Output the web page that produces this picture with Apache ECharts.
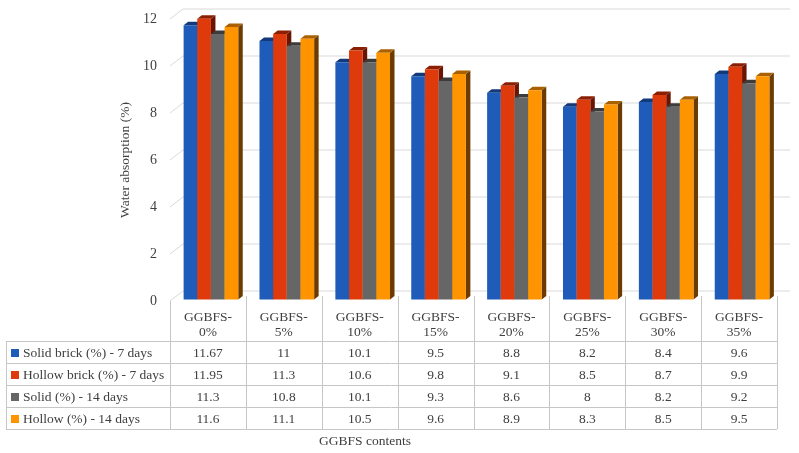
<!DOCTYPE html>
<html lang="en">
<head>
<meta charset="UTF-8">
<title>Water absorption</title>
<script src="https://cdn.jsdelivr.net/npm/echarts@6/dist/echarts.min.js"></script>
<style>
    html, body { margin: 0; padding: 0; background: #fff; }
    #main { width: 799px; height: 453px; }
</style>
</head>
<body>
<div id="main"></div>
<script type="text/javascript">
    const categories = ['GGBFS-0%', 'GGBFS-5%', 'GGBFS-10%', 'GGBFS-15%', 'GGBFS-20%', 'GGBFS-25%', 'GGBFS-30%', 'GGBFS-35%'];
    const seriesNames = ['Solid brick (%) - 7 days', 'Hollow brick (%) - 7 days', 'Solid (%) - 14 days', 'Hollow (%) - 14 days'];
    const solidBrick7 = [11.67, 11, 10.1, 9.5, 8.8, 8.2, 8.4, 9.6];
    const hollowBrick7 = [11.95, 11.3, 10.6, 9.8, 9.1, 8.5, 8.7, 9.9];
    const solid14 = [11.3, 10.8, 10.1, 9.3, 8.6, 8, 8.2, 9.2];
    const hollow14 = [11.6, 11.1, 10.5, 9.6, 8.9, 8.3, 8.5, 9.5];
    const yTicks = [0, 2, 4, 6, 8, 10, 12];

    const allValues = [solidBrick7, hollowBrick7, solid14, hollow14];
    const front = ['#1f5bb8', '#de3a0b', '#666666', '#fd9400'];
    const topCol = ['#12397a', '#8c1e04', '#3c3c3c', '#a86000'];
    const sideCol = ['#0d2a5c', '#6a1402', '#2f2f2f', '#6c3b00'];
    const FONT = '"Liberation Serif", "Times New Roman", serif';
    const TXT = '#404040';

    // wall depth and bar depth (fake 3d)
    const WALL_DX = 13, WALL_DY = -10;
    const BAR_DX = 4.5, BAR_DY = -3.5;
    const SHIFT_X = 3, SHIFT_Y = -1.5;

    let chart = echarts.init(document.getElementById('main'), null, {renderer: 'canvas'});

    function wallItem(params, api) {
        let band = api.size([1, 0])[0];
        let p = api.coord([0, api.value(1)]);
        let left = p[0] - band / 2;
        let right = api.coord([categories.length - 1, 0])[0] + band / 2;
        let y = p[1];
        return {
            type: 'polyline',
            shape: {points: [[left, y], [left + WALL_DX, y + WALL_DY], [right + WALL_DX, y + WALL_DY]]},
            style: {stroke: '#d9d9d9', lineWidth: 1, fill: null}
        };
    }

    function barItem(si) {
        return function (params, api) {
            let c = api.value(0), v = api.value(1);
            let band = api.size([1, 0])[0];
            let base = api.coord([c, 0]);
            let top = api.coord([c, v]);
            let bw = band * 0.18;
            let x0 = base[0] - band / 2 + band * 0.14 + si * bw + SHIFT_X;
            let x1 = x0 + bw;
            let yb = base[1] + SHIFT_Y, yt = top[1] + SHIFT_Y;
            return {
                type: 'group',
                children: [
                    {
                        type: 'polygon',
                        shape: {points: [[x1, yt], [x1 + BAR_DX, yt + BAR_DY], [x1 + BAR_DX, yb + BAR_DY], [x1, yb]]},
                        style: {fill: sideCol[si]}
                    },
                    {
                        type: 'polygon',
                        shape: {points: [[x0, yt], [x1, yt], [x1 + BAR_DX, yt + BAR_DY], [x0 + BAR_DX, yt + BAR_DY]]},
                        style: {fill: topCol[si]}
                    },
                    {
                        type: 'rect',
                        shape: {x: x0, y: yt, width: bw, height: yb - yt},
                        style: {fill: front[si]}
                    }
                ]
            };
        };
    }

    let series = [{
        type: 'custom',
        name: 'wall',
        renderItem: wallItem,
        data: yTicks.map(v => [0, v]),
        encode: {x: 0, y: 1},
        silent: true,
        z: 1
    }];
    allValues.forEach((vals, si) => {
        series.push({
            type: 'custom',
            name: seriesNames[si],
            renderItem: barItem(si),
            data: vals.map((v, i) => [i, v]),
            encode: {x: 0, y: 1},
            z: 2 + si
        });
    });

    chart.setOption({
        animation: false,
        grid: {left: 170, right: 22, top: 19, bottom: 152},
        xAxis: {
            type: 'category',
            data: categories,
            axisLine: {show: false},
            axisTick: {show: false},
            splitLine: {show: false},
            axisLabel: {
                interval: 0,
                margin: 9,
                fontFamily: FONT,
                fontSize: 13.5,
                lineHeight: 15,
                color: TXT,
                formatter: v => v.replace('-', '-\n')
            }
        },
        yAxis: {
            type: 'value',
            min: 0,
            max: 12,
            interval: 2,
            axisLine: {show: false},
            axisTick: {show: false},
            splitLine: {show: false},
            axisLabel: {margin: 13, fontFamily: FONT, fontSize: 14, color: TXT},
            name: 'Water absorption (%)',
            nameLocation: 'middle',
            nameGap: 35,
            nameTextStyle: {fontFamily: FONT, fontSize: 13.5, color: TXT}
        },
        series: series
    });

    // data table under the chart, aligned on the category axis
    let cx = categories.map(c => chart.convertToPixel({xAxisIndex: 0}, c));
    let band = cx[1] - cx[0];
    let tLeft = cx[0] - band / 2;
    let tRight = cx[cx.length - 1] + band / 2;
    let legLeft = 6;
    let rowY = [341, 363, 385, 407, 429];
    let lineStyle = {stroke: '#c6c6c6', lineWidth: 1};
    let graphics = [];

    for (let k = 0; k <= categories.length; k++) {
        let x = Math.round(tLeft + k * band) + 0.5;
        graphics.push({
            type: 'line',
            shape: {x1: x, y1: k === 0 ? 301 : 296, x2: x, y2: rowY[rowY.length - 1]},
            style: lineStyle
        });
    }
    graphics.push({
        type: 'line',
        shape: {x1: legLeft + 0.5, y1: rowY[0], x2: legLeft + 0.5, y2: rowY[rowY.length - 1]},
        style: lineStyle
    });
    rowY.forEach(y => {
        graphics.push({
            type: 'line',
            shape: {x1: legLeft, y1: y + 0.5, x2: tRight, y2: y + 0.5},
            style: lineStyle
        });
    });

    allValues.forEach((vals, si) => {
        let yc = (rowY[si] + rowY[si + 1]) / 2 + 1;
        graphics.push({
            type: 'rect',
            shape: {x: 11, y: yc - 4, width: 8, height: 8},
            style: {fill: front[si]}
        });
        graphics.push({
            type: 'text',
            x: 23,
            y: yc,
            style: {text: seriesNames[si], font: '13.5px ' + FONT, fill: TXT, align: 'left', verticalAlign: 'middle'}
        });
        vals.forEach((v, i) => {
            graphics.push({
                type: 'text',
                x: cx[i],
                y: yc,
                style: {text: String(v), font: '13.5px ' + FONT, fill: TXT, align: 'center', verticalAlign: 'middle'}
            });
        });
    });

    graphics.push({
        type: 'text',
        x: 365,
        y: 441,
        style: {text: 'GGBFS contents', font: '13.5px ' + FONT, fill: TXT, align: 'center', verticalAlign: 'middle'}
    });

    chart.setOption({graphic: graphics});
</script>
</body>
</html>
